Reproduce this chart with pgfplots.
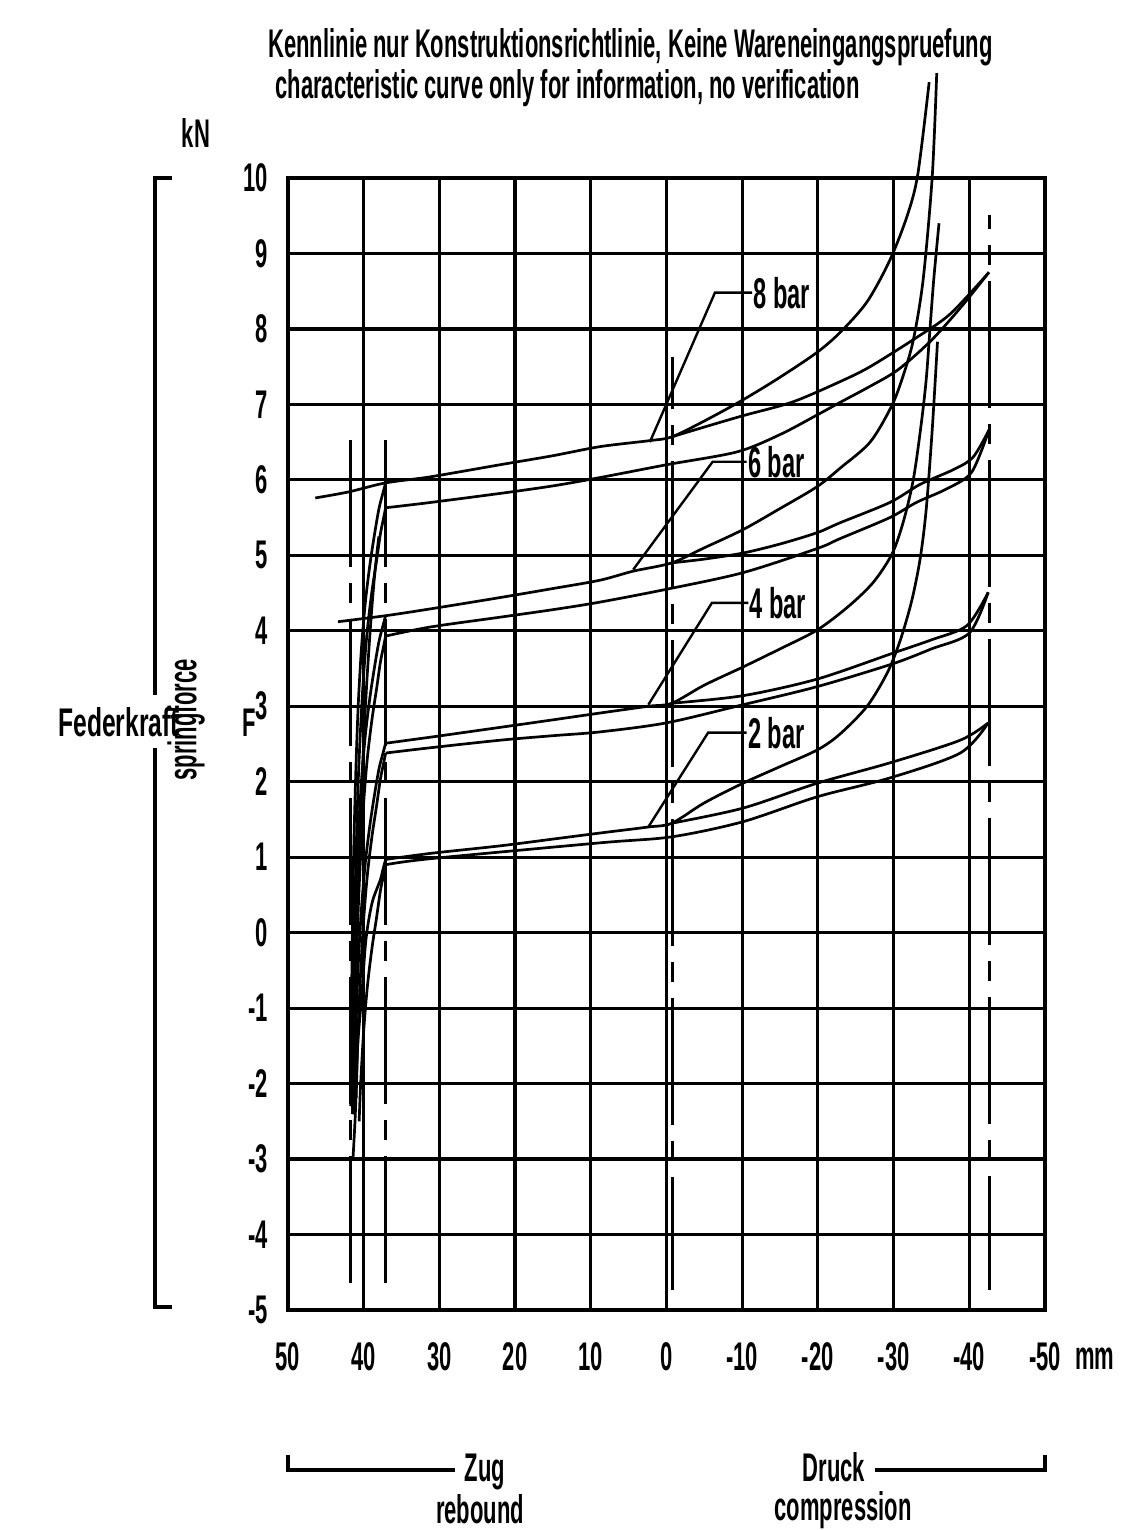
\documentclass[border=0pt]{standalone}
\usepackage{fontspec}
\setmainfont{Liberation Sans}[FakeStretch=0.55]
\usepackage{pgfplots}
\pgfplotsset{compat=1.18}

\newcommand\cad{\fontsize{20}{23}\selectfont\bfseries}
\newcommand\cadbig{\fontsize{21.5}{24}\selectfont\bfseries}

\pgfplotsset{
  curve/.style={black, line width=1.35pt, smooth, tension=0.5, no marks},
  cline/.style={black, line width=1.4pt, no marks, dash pattern=on 63.5pt off 8pt on 10pt off 8pt},
  lead/.style={black, line width=1.2pt, no marks},
}

\begin{document}
\begin{tikzpicture}[x=1pt,y=1pt,every node/.style={font=\cad}]
\begin{axis}[
  at={(144pt,110pt)}, anchor=south west,
  scale only axis, width=378.5pt, height=566pt,
  xmin=-50, xmax=50, ymin=-5, ymax=10,
  x dir=reverse,
  xtick={-50,-40,...,50}, ytick={-5,-4,...,10},
  xticklabels={-50,-40,-30,-20,-10,0,10,20,30,40,50},
  yticklabels={-5,-4,-3,-2,-1,0,1,2,3,4,5,6,7,8,9,10},
  grid=major, major grid style={black, line width=1.6pt},
  axis line style={line width=1.9pt},
  major tick length=0pt,
  tick label style={font=\cad},
  xticklabel style={anchor=north, inner sep=0pt, yshift=-16pt},
  yticklabel style={anchor=east, inner sep=0pt, xshift=-10pt},
  clip=false,
]
% construction lines
\addplot[cline] coordinates {(41.7,6.53) (41.7,-4.73)};
\addplot[cline] coordinates {(37.1,6.53) (37.1,-4.73)};
\addplot[cline, dash phase=37.5pt] coordinates {(-0.8,7.63) (-0.8,-4.73)};
\addplot[cline, dash phase=56.5pt] coordinates {(-42.7,9.51) (-42.7,-4.73)};

% 8 bar
\addplot[curve] coordinates {(46.4,5.76) (42,5.84) (37.1,5.96) (31.2,6.04) (22,6.2) (15,6.32) (8.8,6.44) (2.2,6.52) (-0.7,6.57) (-5,6.78) (-10.1,7.06) (-15,7.36) (-19.9,7.69) (-23,7.96) (-26.5,8.36) (-29.5,8.91) (-31.8,9.5) (-33.2,10.05) (-34.7,11.27)};
\addplot[curve] coordinates {(-0.7,6.57) (-5,6.7) (-10.1,6.85) (-16.6,7.03) (-22.9,7.3) (-26.9,7.5) (-33.1,7.89) (-37.5,8.2) (-42.6,8.75)};
\addplot[curve] coordinates {(37.1,5.63) (31.2,5.7) (22,5.82) (15,5.92) (8.8,6.03) (0,6.2) (-9.3,6.37) (-15,6.6) (-19.9,6.86) (-23,7.03) (-26.9,7.24) (-30.6,7.46) (-35,7.85) (-39,8.3) (-42.6,8.75)};

% 6 bar
\addplot[curve] coordinates {(43.4,4.12) (37.1,4.2) (31.2,4.29) (22,4.44) (15,4.56) (8.8,4.67) (4.4,4.79) (-0.7,4.9) (-5,5.1) (-10.1,5.34) (-15,5.62) (-19.9,5.91) (-23,6.16) (-26.9,6.5) (-29.7,6.97) (-31.2,7.36) (-32.6,7.85) (-33.9,8.65) (-35.1,10.01) (-35.7,11.39)};
\addplot[curve] coordinates {(-0.7,4.9) (-5,4.95) (-10.1,5.03) (-15,5.15) (-19.9,5.3) (-22.9,5.43) (-29.5,5.7) (-33.5,5.94) (-38,6.14) (-40.5,6.3) (-42.6,6.66)};
\addplot[curve] coordinates {(37.1,3.93) (31.2,4.05) (22,4.18) (15,4.28) (8.8,4.38) (0,4.55) (-10.1,4.77) (-19.9,5.09) (-22.9,5.22) (-29.5,5.5) (-33,5.7) (-37,5.88) (-40.3,6.1) (-42.6,6.66)};

% 4 bar
\addplot[curve] coordinates {(37.1,2.51) (31.2,2.59) (22,2.72) (15,2.82) (8.8,2.91) (2.4,3.0) (-0.7,3.04) (-5,3.28) (-10.1,3.52) (-15,3.76) (-19.9,4.01) (-24,4.32) (-27.3,4.64) (-29.8,5.02) (-31.3,5.45) (-32.6,6.0) (-33.6,6.7) (-34.3,7.32) (-34.8,7.99) (-35.3,8.65) (-36.0,9.4)};
\addplot[curve] coordinates {(-0.7,3.04) (-10.1,3.14) (-19.9,3.36) (-29.8,3.7) (-35,3.88) (-39.7,4.07) (-42.5,4.51)};
\addplot[curve] coordinates {(37.1,2.38) (31.2,2.45) (22,2.55) (15,2.61) (8.8,2.66) (0,2.78) (-10.1,3.02) (-19.9,3.26) (-29.8,3.56) (-35,3.76) (-40,3.97) (-42.5,4.51)};

% 2 bar
\addplot[curve] coordinates {(37.1,0.97) (31.2,1.05) (22,1.15) (15,1.24) (8.8,1.32) (2.4,1.40) (-0.7,1.45) (-5,1.72) (-10.1,1.98) (-15,2.2) (-19.9,2.42) (-22.9,2.63) (-26.5,3.0) (-29.2,3.45) (-30.9,3.88) (-32.4,4.4) (-33.5,4.95) (-34.3,5.6) (-35.1,6.66) (-35.8,7.83)};
\addplot[curve] coordinates {(-0.7,1.45) (-10.1,1.65) (-19.9,1.98) (-29.5,2.25) (-38.8,2.55) (-42.5,2.78)};
\addplot[curve] coordinates {(37.1,0.9) (31.2,0.98) (8.8,1.19) (-0.7,1.27) (-10.1,1.47) (-19.9,1.80) (-29.5,2.05) (-38.8,2.38) (-42.5,2.78)};

% rebound branches
\addplot[curve] coordinates {(37.1,5.96) (37.5,5.81) (38.0,5.61) (38.6,5.26) (39.2,4.86) (39.8,4.36) (40.3,3.76) (40.7,3.06) (41.0,2.26) (41.3,1.16) (41.5,-0.04) (41.65,-1.34) (41.72,-2.3)};
\addplot[curve] coordinates {(37.1,5.63) (37.4,5.48) (37.8,5.28) (38.3,4.93) (38.9,4.53) (39.5,4.03) (40.0,3.43) (40.4,2.73) (40.75,1.93) (41.05,0.83) (41.3,-0.37) (41.45,-1.67) (41.5,-2.2)};
\addplot[curve] coordinates {(38.0,5.25) (38.5,4.8) (39.0,4.2) (39.6,3.3) (40.1,2.3) (40.6,1.0) (41.0,-0.3) (41.3,-1.6) (41.5,-2.4)};
\addplot[curve] coordinates {(37.1,4.2) (37.5,4.05) (38.0,3.85) (38.6,3.5) (39.2,3.1) (39.8,2.6) (40.3,2.0) (40.7,1.3) (41.0,0.5) (41.3,-0.6) (41.5,-1.8) (41.55,-2.3)};
\addplot[curve] coordinates {(37.1,3.93) (37.4,3.78) (37.8,3.58) (38.3,3.23) (38.9,2.83) (39.5,2.33) (40.0,1.73) (40.4,1.03) (40.75,0.23) (41.05,-0.87) (41.25,-2.0)};
\addplot[curve] coordinates {(37.1,2.51) (37.5,2.36) (38.0,2.16) (38.6,1.81) (39.2,1.41) (39.8,0.91) (40.3,0.31) (40.7,-0.39) (41.0,-1.19) (41.3,-2.29) (41.32,-2.4)};
\addplot[curve] coordinates {(37.1,2.38) (37.4,2.23) (37.8,2.03) (38.3,1.68) (38.9,1.28) (39.5,0.78) (40.0,0.18) (40.4,-0.52) (40.75,-1.32) (41.0,-2.2)};
\addplot[curve] coordinates {(37.1,0.97) (37.5,0.82) (37.8,0.7) (38.8,0.43) (39.4,0.13) (39.8,-0.19) (40.2,-0.76) (40.8,-1.51) (41.1,-2.39) (41.4,-2.97)};
\addplot[curve] coordinates {(37.1,0.9) (37.4,0.75) (37.8,0.55) (38.3,0.2) (38.9,-0.2) (39.5,-0.7) (40.0,-1.3) (40.4,-2.0) (40.6,-2.5)};

% leaders and pressure labels
\addplot[lead] coordinates {(2.2,6.50) (-6.4,8.48) (-11.3,8.48)};
\addplot[lead] coordinates {(4.4,4.81) (-6.1,6.24) (-10.6,6.24)};
\addplot[lead] coordinates {(2.4,3.02) (-6.0,4.37) (-10.8,4.37)};
\addplot[lead] coordinates {(2.4,1.40) (-5.5,2.65) (-10.6,2.65)};
\node[font=\cadbig, anchor=west, inner sep=0.5pt] at (axis cs:-11.3,8.48) {8 bar};
\node[font=\cadbig, anchor=west, inner sep=0.5pt] at (axis cs:-10.6,6.24) {6 bar};
\node[font=\cadbig, anchor=west, inner sep=0.5pt] at (axis cs:-10.8,4.37) {4 bar};
\node[font=\cadbig, anchor=west, inner sep=0.5pt] at (axis cs:-10.6,2.65) {2 bar};
\end{axis}

% titles and labels
\node[anchor=base west, inner sep=0pt] at (134,736) {Kennlinie nur Konstruktionsrichtlinie, Keine Wareneingangspruefung};
\node[anchor=base west, inner sep=0pt] at (137.5,715.5) {characteristic curve only for information, no verification};
\node[inner sep=0pt] at (98,698.5) {kN};
\node[anchor=base west, inner sep=0pt, xscale=1.12] at (29,396.5) {Federkraft};
\node[rotate=90, inner sep=0pt] at (93,405) {springforce};
\node[anchor=base west, inner sep=0pt] at (121,396.5) {F};
\node[anchor=base west, inner sep=0pt] at (537.5,80) {mm};
\node[anchor=base, inner sep=0pt] at (242.5,24) {Zug};
\node[anchor=base, inner sep=0pt] at (240,3) {rebound};
\node[anchor=base, inner sep=0pt] at (417,24) {Druck};
\node[anchor=base, inner sep=0pt] at (421.5,5) {compression};

% brackets
\draw[line width=1.6pt] (86,676) -- (77.5,676) -- (77.5,417.5);
\draw[line width=1.6pt] (77.5,391) -- (77.5,111.5) -- (86,111.5);
\draw[line width=1.6pt] (144,37.5) -- (144,30) -- (227.5,30);
\draw[line width=1.6pt] (437.5,30) -- (522.5,30) -- (522.5,37.5);

\pgfresetboundingbox
\path[use as bounding box] (0,0) rectangle (563,765);
\end{tikzpicture}
\end{document}
